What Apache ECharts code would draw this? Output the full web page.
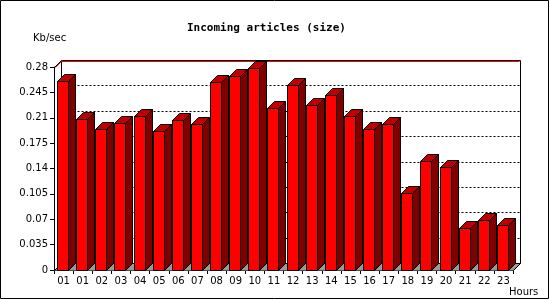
<!DOCTYPE html>
<html>
<head>
<meta charset="utf-8">
<script src="https://cdn.jsdelivr.net/npm/echarts@6/dist/echarts.min.js"></script>
<style>
html,body{margin:0;padding:0;background:#fff;}
#c{width:550px;height:300px;}
</style>
</head>
<body>
<div id="c"></div>
<script>
// ---- data ----
var hours = ['01','01','02','03','04','05','06','07','08','09','10','11','12','13','14','15','16','17','18','19','20','21','22','23'];
var kbPerSec = [0.261,0.208,0.195,0.203,0.213,0.192,0.207,0.201,0.259,0.267,0.278,0.223,0.255,0.227,0.242,0.212,0.195,0.202,0.106,0.151,0.142,0.058,0.069,0.062];
var yTicks = [0,0.035,0.07,0.105,0.14,0.175,0.21,0.245,0.28];
var titleText = 'Incoming articles (size)';
var yName = 'Kb/sec';
var xName = 'Hours';

var DEPTH = 7;
var chart = echarts.init(document.getElementById('c'), null, {renderer:'canvas'});

var barData = kbPerSec.map(function(v,i){ return [i, v]; });

function renderFrame(params, api){
  var cs = params.coordSys;
  var x = Math.round(cs.x)+0.5, y = Math.round(cs.y)+0.5;
  var w = Math.round(cs.width), h = Math.round(cs.height);
  var D = DEPTH;
  var ch = [];
  // floor
  ch.push({type:'polygon', shape:{points:[[x,y+h],[x+w,y+h],[x+w+D,y+h-D],[x+D,y+h-D]]}, style:{fill:'#999999', stroke:null}});
  // dotted grid lines on back wall
  for (var k=1;k<yTicks.length-1;k++){
    var py = Math.round(api.coord([0, yTicks[k]])[1]) + 0.5 - D;
    ch.push({type:'line', shape:{x1:x+D, y1:py, x2:x+w+D, y2:py}, style:{stroke:'#000', lineWidth:1, lineDash:[2,2]}});
  }
  // back wall
  ch.push({type:'rect', shape:{x:x+D, y:y-D, width:w, height:h}, style:{fill:null, stroke:'#000', lineWidth:1}});
  ch.push({type:'line', shape:{x1:x+D, y1:y-D+1, x2:x+w+D-1, y2:y-D+1}, style:{stroke:'#ff0000', lineWidth:1}});
  // connecting diagonals
  ch.push({type:'line', shape:{x1:x, y1:y, x2:x+D, y2:y-D}, style:{stroke:'#000', lineWidth:1}});
  ch.push({type:'line', shape:{x1:x+1, y1:y, x2:x+D+1, y2:y-D}, style:{stroke:'#ff0000', lineWidth:1}});
  ch.push({type:'line', shape:{x1:x+w, y1:y+h, x2:x+w+D, y2:y+h-D}, style:{stroke:'#000', lineWidth:1}});
  ch.push({type:'line', shape:{x1:x, y1:y+h, x2:x+D, y2:y+h-D}, style:{stroke:'#000', lineWidth:1}});
  return {type:'group', children:ch};
}

function renderBar(params, api){
  var i = api.value(0), v = api.value(1);
  var base = api.coord([i, 0]);
  var top = api.coord([i, v]);
  var band = api.size([1, 0])[0];
  var D = DEPTH;
  var fw = 11;
  var L = Math.round(base[0] - band/2 + 3) + 0.5;
  var B = Math.round(base[1]) + 0.5;
  var T = Math.round(top[1]) + 0.5;
  var st = {stroke:'#000', lineWidth:1};
  return {type:'group', children:[
    {type:'polygon', shape:{points:[[L+fw,T],[L+fw+D,T-D],[L+fw+D,B-D],[L+fw,B]]}, style:Object.assign({fill:'#800000'}, st)},
    {type:'polygon', shape:{points:[[L,T],[L+D,T-D],[L+fw+D,T-D],[L+fw,T]]}, style:Object.assign({fill:'#c00000'}, st)},
    {type:'rect', shape:{x:L, y:T, width:fw, height:B-T}, style:Object.assign({fill:'#ff0000'}, st)}
  ]};
}

var labelFont = {fontFamily:'DejaVu Sans', fontSize:10, color:'#000'};

chart.setOption({
  backgroundColor:'#ffffff',
  animation:false,
  title:[
    {text:titleText, left:182, top:18, textStyle:{fontFamily:'DejaVu Sans Mono', fontWeight:'bold', fontSize:11, color:'#000'}},
    {text:yName, left:28, top:28, textStyle:{fontFamily:'DejaVu Sans', fontWeight:'normal', fontSize:10, color:'#000'}},
    {text:xName, left:504, top:282, textStyle:{fontFamily:'DejaVu Sans', fontWeight:'normal', fontSize:10, color:'#000'}}
  ],
  grid:{left:54, top:67, width:459, height:203, containLabel:false},
  xAxis:{
    type:'category', data:hours, boundaryGap:true,
    axisLine:{lineStyle:{color:'#000', width:1}},
    axisTick:{show:true, length:4, alignWithLabel:false, interval:0, lineStyle:{color:'#000'}},
    axisLabel:Object.assign({interval:0, margin:6}, labelFont),
    splitLine:{show:false}
  },
  yAxis:{
    type:'value', min:0, max:0.28, interval:0.035,
    axisLine:{show:true, lineStyle:{color:'#000', width:1}},
    axisTick:{show:true, length:4, lineStyle:{color:'#000'}},
    axisLabel:Object.assign({margin:6, formatter:function(v){ return String(+v.toFixed(3)); }}, labelFont),
    splitLine:{show:false}
  },
  series:[
    {type:'custom', name:'frame', z:1, data:[[0,0]], renderItem:renderFrame, silent:true, clip:false},
    {type:'custom', name:'size', z:3, data:barData, encode:{x:0, y:1}, renderItem:renderBar, clip:false}
  ],
  graphic:[
    {type:'rect', z:100, shape:{x:0.5, y:0.5, width:548, height:298}, style:{fill:null, stroke:'#000', lineWidth:1}}
  ]
});
</script>
</body>
</html>
